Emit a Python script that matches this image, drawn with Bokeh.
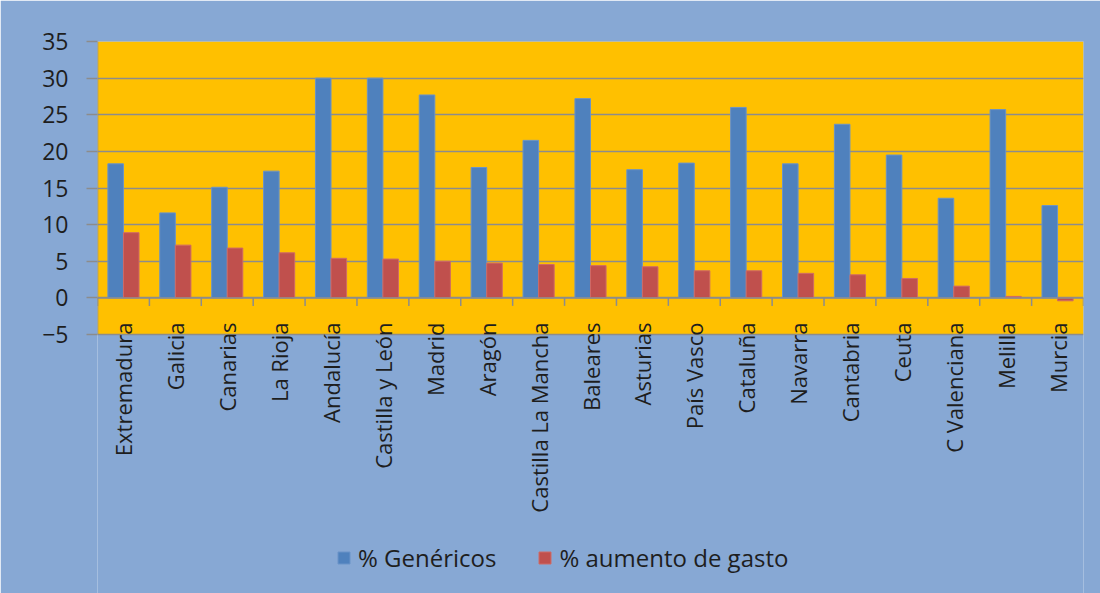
from bokeh.plotting import figure
from bokeh.models import (Range1d, FactorRange, FixedTicker, Legend, LegendItem,
                          ColumnDataSource, Span, BoxAnnotation)
from bokeh.core.properties import value
from bokeh.transform import dodge
from bokeh.embed import file_html
from bokeh.resources import INLINE
import math

categories = ["Extremadura", "Galicia", "Canarias", "La Rioja", "Andalucía", "Castilla y León",
              "Madrid", "Aragón", "Castilla La Mancha", "Baleares", "Asturias", "País Vasco",
              "Cataluña", "Navarra", "Cantabria", "Ceuta", "C Valenciana", "Melilla", "Murcia"]
genericos = [18.3, 11.6, 15.1, 17.3, 30.0, 30.0, 27.7, 17.8, 21.5, 27.2, 17.5, 18.4,
             26.0, 18.3, 23.7, 19.5, 13.6, 25.7, 12.6]
aumento = [8.9, 7.2, 6.8, 6.15, 5.4, 5.3, 5.0, 4.75, 4.55, 4.4, 4.25, 3.7,
           3.7, 3.35, 3.15, 2.65, 1.6, 0.2, -0.4]
y_ticks = [-5, 0, 5, 10, 15, 20, 25, 30, 35]
series_names = ["% Genéricos", "% aumento de gasto"]

BG = "#87A8D4"
ORANGE = "#FFC000"
BLUE = "#4F81BD"
RED = "#C0504D"
GRID = "#8C8C8C"
TXT = "#1E1E1E"
FONT = "Open Sans"

Y_MIN, Y_MAX = y_ticks[0], y_ticks[-1]
# the frame extends below the value axis to hold the category labels and the legend
PX_PER_UNIT = 293.0 / (Y_MAX - Y_MIN)
Y_LOW = Y_MIN - 259.0 / PX_PER_UNIT

n = len(categories)
src = ColumnDataSource(dict(cat=categories, g=genericos, a=aumento,
                            y0=[0] * n, y1=[-8.0 / PX_PER_UNIT] * n,
                            ly=[Y_MIN + 12.0 / PX_PER_UNIT] * n))
src_last = ColumnDataSource(dict(cat=categories[-1:], y0=[0], y1=[-8.0 / PX_PER_UNIT]))
src_first = ColumnDataSource(dict(cat=categories[:1], y0=[Y_MIN], y1=[Y_MAX]))

p = figure(width=1100, height=593, output_backend="svg", toolbar_location=None,
           x_range=FactorRange(*categories), y_range=Range1d(Y_LOW, Y_MAX),
           min_border_left=97, min_border_right=17, min_border_top=41, min_border_bottom=0)
p.background_fill_color = BG
p.border_fill_color = BG
p.outline_line_color = None

p.add_layout(BoxAnnotation(bottom=Y_MIN, top=Y_MAX, fill_color=ORANGE, fill_alpha=1,
                           line_color=None, level="image"))

r1 = p.vbar(x=dodge("cat", -0.15, range=p.x_range), top="g", bottom=0, width=0.3,
            source=src, fill_color=BLUE, line_color="#6A93C8", line_width=1)
r2 = p.vbar(x=dodge("cat", 0.15, range=p.x_range), top="a", bottom=0, width=0.3,
            source=src, fill_color=RED, line_color="#CF6A66", line_width=1)

# y axis
p.yaxis.ticker = FixedTicker(ticks=y_ticks)
p.yaxis.axis_line_color = None
p.yaxis.major_tick_line_color = GRID
p.yaxis.major_tick_line_width = 1.5
p.yaxis.major_tick_in = 0
p.yaxis.major_tick_out = 11
p.yaxis.minor_tick_line_color = None
p.yaxis.major_label_standoff = 18
p.yaxis.major_label_text_font = FONT
p.yaxis.major_label_text_font_size = "23px"
p.yaxis.major_label_text_color = TXT
p.segment(x0=dodge("cat", -0.5, range=p.x_range), y0="y0",
          x1=dodge("cat", -0.5, range=p.x_range), y1="y1",
          source=src_first, line_color=GRID, line_width=1.5)

p.ygrid.grid_line_color = GRID
p.ygrid.grid_line_width = 1.5
p.ygrid.ticker = FixedTicker(ticks=y_ticks)
p.xgrid.grid_line_color = None
p.xaxis.visible = False

# category labels
p.text(x="cat", y="ly", text="cat", source=src, angle=math.pi / 2,
       text_align="right", text_baseline="middle",
       text_font=value(FONT), text_font_size=value("22px"), text_color=TXT)

# zero line and category boundary ticks
p.add_layout(Span(location=0, dimension="width", line_color=GRID, line_width=1.5))
p.segment(x0=dodge("cat", -0.5, range=p.x_range), y0="y0",
          x1=dodge("cat", -0.5, range=p.x_range), y1="y1",
          source=src, line_color=GRID, line_width=1.5)
p.segment(x0=dodge("cat", 0.5, range=p.x_range), y0="y0",
          x1=dodge("cat", 0.5, range=p.x_range), y1="y1",
          source=src_last, line_color=GRID, line_width=1.5)

legend = Legend(items=[LegendItem(label=series_names[0], renderers=[r1]),
                       LegendItem(label=series_names[1], renderers=[r2])],
                location=(239, 19), orientation="horizontal",
                glyph_width=15, glyph_height=15, label_standoff=7, spacing=41,
                padding=0, margin=0, background_fill_alpha=0, border_line_color=None,
                label_text_font=FONT, label_text_font_size="24px", label_text_color=TXT)
p.add_layout(legend, "center")

open("out.html", "w").write(file_html(p, INLINE))
